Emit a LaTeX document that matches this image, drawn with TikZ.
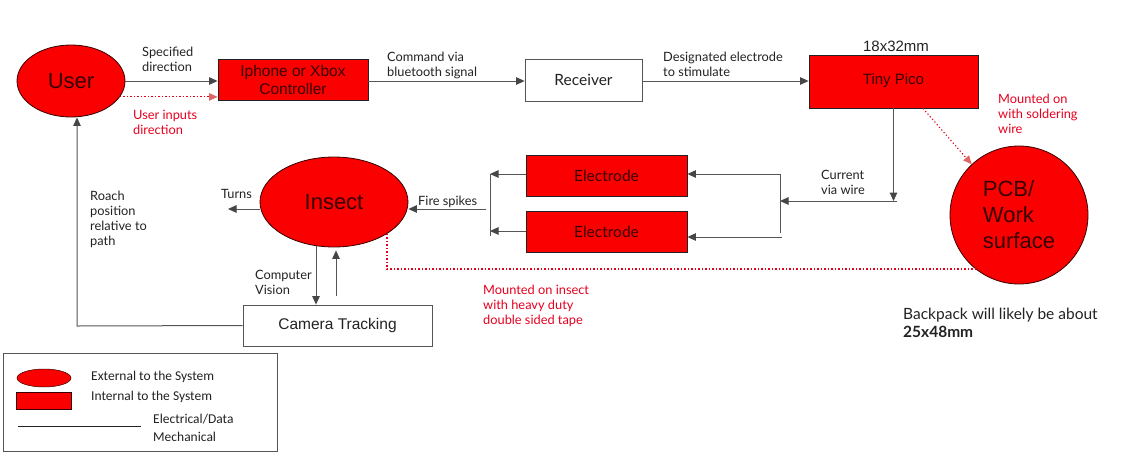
\documentclass[tikz,border=0pt]{standalone}
\usepackage{fontspec}
\setmainfont{Lato}
\newfontfamily\arial{Liberation Sans}
\newfontfamily\lato{Lato}
\newfontfamily\calib{Carlito}
\usetikzlibrary{shapes.geometric,arrows.meta,calc}
\definecolor{redf}{RGB}{250,0,0}
\definecolor{darkt}{RGB}{55,0,0}
\definecolor{linec}{RGB}{85,85,85}
\definecolor{tipc}{RGB}{70,70,70}
\definecolor{redt}{RGB}{230,0,30}
\definecolor{pinkt}{RGB}{224,102,102}
\definecolor{txt}{RGB}{34,34,34}
\begin{document}
\begin{tikzpicture}[x=1pt,y=-1pt,
  ext/.style={ellipse, draw=darkt, line width=0.8pt, fill=redf, inner sep=0pt, text=darkt, font=\arial\fontsize{22}{25}\selectfont},
  intb/.style={rectangle, draw=txt, line width=0.8pt, fill=redf, inner sep=0pt, text=darkt, align=center},
  whb/.style={rectangle, draw=linec, line width=0.8pt, fill=white, inner sep=0pt, text=txt, align=center},
  arr/.style={draw=linec, line width=1pt, -{Triangle[length=8.5pt,width=7.5pt,color=tipc]}},
  plain/.style={draw=linec, line width=1pt},
  lbl/.style={anchor=north west, align=left, inner sep=0pt, font=\lato\fontsize{12.8}{15}\selectfont, text=txt},
  rlbl/.style={lbl, text=redt},
  reddot/.style={draw=redt, line width=1.1pt, dash pattern=on 1.2pt off 2.3pt},
  pinktip/.style={-{Triangle[length=8.5pt,width=7.5pt,color=pinkt]}},
  legt/.style={anchor=north west, inner sep=0pt, font=\calib\fontsize{13.5}{15}\selectfont, text=txt}
]
\useasboundingbox (0,0) rectangle (1122,472);

% nodes
\node[ext, minimum width=108pt, minimum height=72pt] (user) at (71,81) {User};
\node[intb, minimum width=150pt, minimum height=41pt, font=\arial\fontsize{15.5}{18}\selectfont] (phone) at (293,80) {Iphone or Xbox\\Controller};
\node[whb, minimum width=117pt, minimum height=42pt, font=\lato\fontsize{15.5}{18}\selectfont] (recv) at (583.5,80) {Receiver};
\node[intb, minimum width=169pt, minimum height=53pt, font=\arial\fontsize{15}{18}\selectfont] (pico) at (893.5,81.5) {\raisebox{4pt}{Tiny Pico}};
\node[ext, circle, minimum size=138pt, align=left, font=\arial\fontsize{22}{26}\selectfont] (pcb) at (1019,215) {PCB/\\Work\\surface};
\node[intb, minimum width=161pt, minimum height=41pt, font=\lato\fontsize{15.5}{18}\selectfont] (el1) at (606.5,175.5) {Electrode};
\node[intb, minimum width=161pt, minimum height=41pt, font=\lato\fontsize{15.5}{18}\selectfont] (el2) at (606.5,231.5) {Electrode};
\node[ext, minimum width=148pt, minimum height=90pt] (insect) at (334,202) {Insect};
\node[whb, minimum width=189pt, minimum height=41pt, font=\arial\fontsize{15.5}{18}\selectfont] (cam) at (337.5,325.5) {Camera Tracking};

% coordinates
\coordinate (pj) at (897,201);
\coordinate (rbt) at (780,174);
\coordinate (rbb) at (780,233);
\coordinate (rb2) at (782,237);
\coordinate (lbt) at (490,174);
\coordinate (lbb) at (490,236);
\coordinate (lbm) at (486,209);
\coordinate (turnsend) at (228,209);
\coordinate (ret) at (77,326);
\coordinate (dotc) at (387,269);

% connectors
\draw[arr] (user.east) -- (user.east -| phone.west);
\draw[reddot, pinktip] (user.-18) -- (user.-18 -| phone.west);
\draw[arr] (phone.east |- user.east) -- (recv.west |- user.east);
\draw[arr] (recv.east |- user.east) -- (pico.west |- user.east);
\draw[arr] (pico.south) -- (pico.south |- pj);
\draw[arr] (pj) -- (pj -| rbt);
\draw[plain] (rbt) -- (rbb);
\draw[arr] (rbt) -- (rbt -| el1.east);
\draw[arr] (rb2) -- (rb2 -| el2.east);
\draw[plain] (lbt) -- (lbb);
\draw[arr] (el1.west |- lbt) -- (lbt);
\draw[arr] (el2.west |- 0,231) -- (lbb |- 0,231);
\draw[arr] (lbm) -- (lbm -| insect.east);
\draw[arr] (insect.west |- turnsend) -- (turnsend);
\draw[arr] ($(insect.south)+(-18,-1)$) -- ($(cam.north)+(-21.5,0)$);
\draw[arr] ($(cam.north)+(-1.5,-9)$) -- ($(insect.south)+(2,3)$);
\draw[arr] (cam.west) -- (ret) -- (ret |- user.south);
\draw[reddot] (insect.-31) -- (insect.-31 |- dotc) -- (dotc -| pcb.232);
\draw[reddot, pinktip] ($(pico.south)+(29.5,0)$) -- (pcb.133);

% labels
\node[lbl] (l1) at (142,47) {Specified\\direction};
\node[rlbl] (l2) at (133,110) {User inputs\\direction};
\node[lbl] (l3) at (387,52) {Command via\\bluetooth signal};
\node[lbl] (l4) at (663,52) {Designated electrode\\to stimulate};
\node[inner sep=0pt, font=\arial\fontsize{15}{18}\selectfont, text=txt] (l5) at (896,46) {18x32mm};
\node[rlbl] (l6) at (998,94) {Mounted on\\with soldering\\wire};
\node[lbl] (l7) at (821,170) {Current\\via wire};
\node[lbl] (l8) at (418,196) {Fire spikes};
\node[lbl] (l9) at (221,189) {Turns};
\node[lbl] (l10) at (90,191) {Roach\\position\\relative to\\path};
\node[lbl] (l11) at (255,270) {Computer\\Vision};
\node[rlbl] (l12) at (483,285) {Mounted on insect\\with heavy duty\\double sided tape};
\node[lbl, font=\lato\fontsize{15.5}{18}\selectfont] (l13) at (903,308) {Backpack will likely be about\\\textbf{25x48mm}};

% legend
\node[draw=linec, line width=0.8pt, minimum width=274pt, minimum height=98pt, inner sep=0pt] (leg) at (140,402) {};
\node[ellipse, fill=redf, draw=darkt, line width=0.5pt, minimum width=54pt, minimum height=18pt, inner sep=0pt] (lege) at (44,378) {};
\node[rectangle, fill=redf, draw=darkt, line width=0.5pt, minimum width=55pt, minimum height=17pt, inner sep=0pt] (legr) at (43.5,400.5) {};
\coordinate (legl1) at (18,426);
\coordinate (legl2) at (141,426);
\draw[draw=txt, line width=0.8pt] (legl1) -- (legl2);
\node[legt] (t1) at (91,371) {External to the  System};
\node[legt] (t2) at (91,391) {Internal to the System};
\node[legt] (t3) at (153,414) {Electrical/Data};
\node[legt] (t4) at (153,432) {Mechanical};
\end{tikzpicture}
\end{document}
